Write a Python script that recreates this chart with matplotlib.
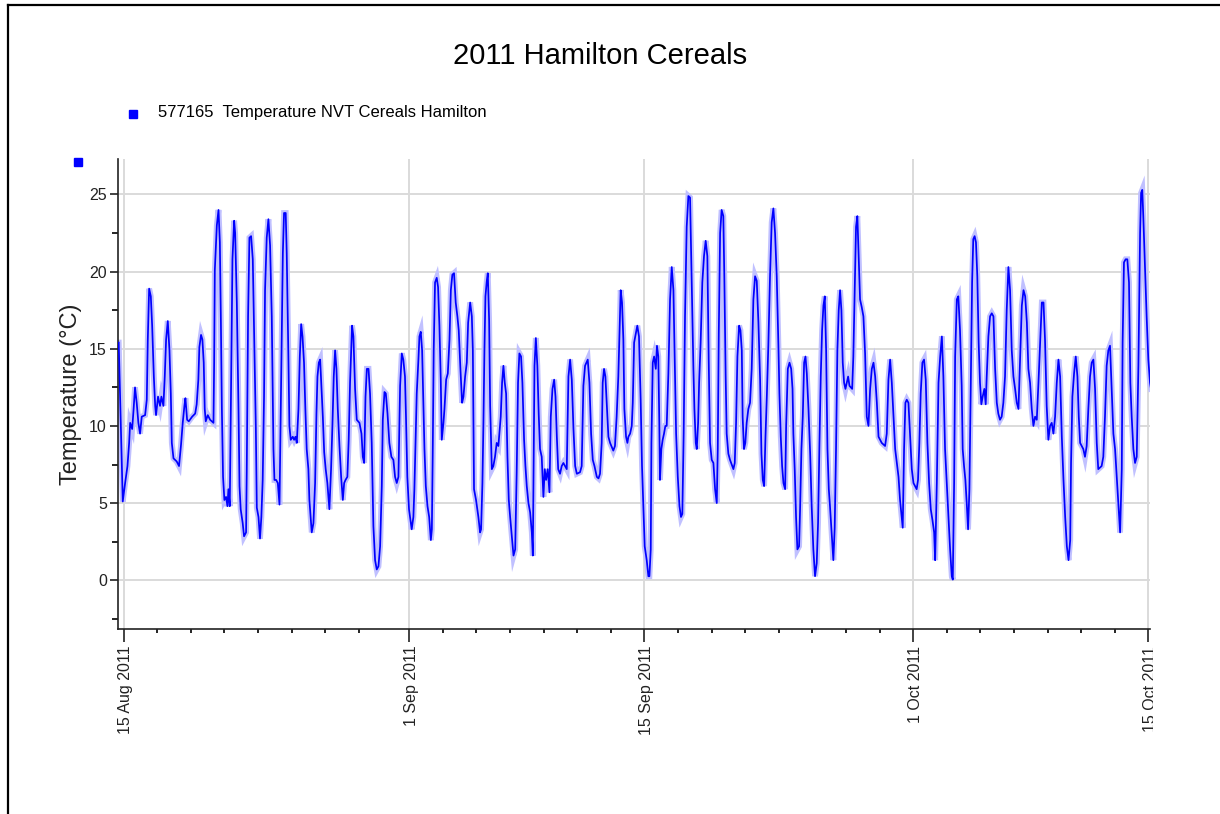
import matplotlib
matplotlib.use("Agg")
import matplotlib.pyplot as plt
import matplotlib.dates as mdates
from matplotlib.lines import Line2D
from matplotlib.patches import Rectangle
from matplotlib.transforms import ScaledTranslation
import numpy as np
import pandas as pd

plt.rcParams["font.family"] = ["Liberation Sans", "DejaVu Sans"]

# ── labels ──────────────────────────────────────────────────────────────────
TITLE = "2011 Hamilton Cereals"
SERIES_NAME = "577165  Temperature NVT Cereals Hamilton"
Y_LABEL = "Temperature (°C)"
START = pd.Timestamp("2011-08-15 00:00")
major_dates = ["2011-08-15", "2011-09-01", "2011-09-15", "2011-10-01", "2011-10-15"]
y_ticks = [0, 5, 10, 15, 20, 25]

# ── logger trace: (days since 15 Aug 2011 00:00, temperature °C) ────────────
aug_readings = [
    (-0.29, 15.4), (-0.23, 12.8), (-0.13, 8.4), (-0.05, 5.1), (0.09, 6.3), (0.23, 7.4),
    (0.33, 8.9), (0.39, 10.2), (0.51, 9.8), (0.59, 11.0), (0.68, 12.5), (0.78, 11.5),
    (0.88, 10.2), (0.98, 9.5), (1.08, 10.6), (1.28, 10.7), (1.38, 11.7), (1.44, 15.6),
    (1.52, 18.9), (1.62, 18.4), (1.70, 16.5), (1.80, 13.2), (1.88, 11.3), (1.93, 10.7),
    (2.05, 11.9), (2.17, 11.3), (2.25, 11.9), (2.37, 11.3), (2.45, 13.2), (2.53, 15.6),
    (2.63, 16.8), (2.73, 14.9), (2.81, 12.1), (2.87, 8.9), (2.97, 7.9), (3.16, 7.7),
    (3.30, 7.4), (3.42, 8.8), (3.52, 10.2), (3.62, 11.3), (3.68, 11.8), (3.78, 10.4),
    (3.88, 10.3), (4.08, 10.6), (4.26, 10.8), (4.35, 11.4), (4.45, 13.0), (4.51, 15.1),
    (4.61, 15.9), (4.69, 15.6), (4.77, 14.1), (4.83, 11.1), (4.89, 10.3), (5.01, 10.7),
    (5.15, 10.4), (5.35, 10.2), (5.39, 14.1), (5.43, 20.1), (5.55, 23.0), (5.65, 24.0),
    (5.73, 21.9), (5.79, 16.9), (5.85, 11.1), (5.92, 6.7), (6.00, 5.2), (6.10, 5.4),
    (6.18, 4.8), (6.24, 5.9), (6.32, 4.8), (6.40, 12.8), (6.48, 20.8), (6.58, 23.3),
    (6.64, 22.5), (6.74, 18.0), (6.84, 11.1), (6.90, 6.1), (6.97, 4.6), (7.09, 3.7),
    (7.17, 2.85), (7.29, 3.1), (7.33, 7.0), (7.41, 17.1), (7.49, 22.2), (7.59, 22.3),
    (7.69, 20.8), (7.77, 16.1), (7.87, 10.0), (7.93, 4.7), (8.03, 4.1), (8.12, 2.7),
    (8.20, 4.1), (8.28, 6.5), (8.36, 11.9), (8.42, 18.8), (8.52, 22.2), (8.62, 23.4),
    (8.72, 21.7), (8.82, 17.1), (8.92, 8.5), (8.98, 6.5), (9.08, 6.5), (9.18, 6.3),
    (9.28, 4.9), (9.38, 12.8), (9.48, 21.2), (9.55, 23.8), (9.65, 23.8), (9.71, 21.2),
    (9.81, 14.5), (9.87, 10.0), (9.95, 9.1), (10.07, 9.3), (10.15, 9.1), (10.23, 9.3),
    (10.31, 8.9), (10.41, 11.1), (10.49, 14.5), (10.57, 16.6), (10.65, 15.8), (10.74, 14.1),
    (10.82, 11.1), (10.90, 8.5), (11.00, 7.2), (11.06, 5.2), (11.20, 3.1), (11.30, 3.7),
    (11.40, 6.3), (11.48, 10.8), (11.54, 13.2), (11.62, 14.1), (11.70, 14.3), (11.78, 12.4),
    (11.86, 10.6), (11.94, 8.3), (12.03, 7.2), (12.13, 6.3), (12.25, 4.6), (12.35, 7.2),
    (12.43, 10.0), (12.51, 13.2), (12.59, 14.9), (12.67, 13.7), (12.75, 11.1), (12.85, 8.7),
    (12.95, 6.7), (13.05, 5.2), (13.13, 6.3), (13.21, 6.5), (13.32, 6.7), (13.40, 9.1),
    (13.48, 12.8), (13.60, 16.5), (13.68, 15.8), (13.78, 12.4), (13.88, 10.4), (14.04, 10.2),
    (14.16, 9.5), (14.24, 8.0), (14.32, 7.6), (14.40, 11.9), (14.48, 13.7), (14.58, 13.7),
    (14.67, 12.1), (14.77, 8.9), (14.87, 3.5), (14.97, 1.3), (15.07, 0.7), (15.17, 0.9),
    (15.27, 2.2), (15.37, 6.1), (15.43, 10.4), (15.53, 12.2), (15.61, 12.1), (15.71, 10.8),
    (15.82, 8.9), (15.94, 8.0), (16.06, 7.8), (16.16, 6.7), (16.26, 6.3), (16.36, 6.7),
    (16.46, 12.6), (16.56, 14.7), (16.65, 14.3), (16.75, 13.2), (16.81, 10.6), (16.89, 6.7),
    (16.99, 4.6),
]

sep_readings = [
    (17.15, 3.3), (17.25, 4.1), (17.31, 5.9), (17.39, 9.3), (17.45, 12.1), (17.55, 14.3),
    (17.61, 15.8), (17.69, 16.1), (17.77, 14.9), (17.85, 11.1), (17.91, 8.5), (17.99, 6.1),
    (18.09, 4.8), (18.19, 4.1), (18.29, 2.6), (18.35, 3.3), (18.40, 8.0), (18.46, 14.9),
    (18.54, 19.3), (18.64, 19.6), (18.72, 19.0), (18.80, 16.5), (18.88, 13.0), (18.94, 9.1),
    (19.04, 10.2), (19.10, 11.1), (19.20, 13.0), (19.30, 13.4), (19.40, 15.6), (19.48, 18.8),
    (19.57, 19.8), (19.67, 19.9), (19.77, 18.0), (19.87, 17.1), (19.95, 16.2), (20.05, 13.7),
    (20.15, 11.5), (20.23, 11.9), (20.33, 13.2), (20.43, 14.1), (20.51, 16.7), (20.63, 18.0),
    (20.73, 17.1), (20.79, 14.9), (20.86, 5.9), (20.98, 5.2), (21.12, 4.1), (21.22, 3.1),
    (21.28, 3.3), (21.36, 6.3), (21.42, 10.2), (21.48, 14.9), (21.54, 18.4), (21.62, 19.4),
    (21.68, 19.9), (21.76, 16.8), (21.82, 11.3), (21.92, 7.2), (22.01, 7.4), (22.11, 8.0),
    (22.21, 8.9), (22.31, 8.7), (22.45, 10.6), (22.53, 12.8), (22.61, 13.9), (22.69, 12.8),
    (22.77, 12.1), (22.85, 8.0), (22.93, 5.2), (23.01, 4.1), (23.11, 2.85), (23.21, 1.6),
    (23.31, 2.0), (23.40, 7.0), (23.48, 12.8), (23.56, 14.7), (23.66, 14.5), (23.74, 12.8),
    (23.84, 9.1), (23.92, 7.4), (24.00, 6.1), (24.10, 5.0), (24.20, 4.4), (24.30, 3.1),
    (24.36, 1.6), (24.40, 6.8), (24.46, 13.9), (24.54, 15.7), (24.63, 13.9), (24.71, 10.8),
    (24.79, 8.5), (24.89, 8.0), (24.99, 5.4), (25.07, 7.2), (25.15, 6.5), (25.25, 7.2),
    (25.35, 5.7), (25.43, 10.6), (25.53, 12.4), (25.63, 13.0), (25.71, 11.9), (25.79, 9.3),
    (25.87, 7.2), (25.98, 6.9), (26.08, 7.4), (26.18, 7.6), (26.38, 7.2), (26.48, 13.2),
    (26.58, 14.3), (26.68, 13.0), (26.78, 9.8), (26.88, 7.4), (26.98, 6.9), (27.17, 7.0),
    (27.27, 7.4), (27.37, 12.6), (27.47, 13.9), (27.63, 14.3), (27.73, 12.8), (27.83, 9.5),
    (27.93, 7.8), (28.03, 7.4), (28.17, 6.7), (28.27, 6.6), (28.36, 6.9), (28.46, 8.9),
    (28.52, 12.8), (28.60, 13.7), (28.68, 13.2), (28.76, 11.5), (28.86, 9.3), (28.96, 8.9),
    (29.15, 8.4), (29.25, 8.7), (29.35, 10.6), (29.45, 13.2), (29.51, 15.6), (29.59, 18.8),
    (29.67, 18.0), (29.75, 15.6), (29.81, 11.1), (29.91, 9.3), (29.99, 8.9), (30.05, 9.3),
    (30.15, 9.5), (30.25, 10.0), (30.31, 11.5), (30.39, 15.4), (30.49, 16.0), (30.58, 16.5),
    (30.68, 15.8), (30.78, 11.7), (30.86, 7.4), (30.94, 4.8), (31.02, 2.2), (31.14, 1.3),
    (31.24, 0.26), (31.30, 0.26), (31.38, 2.0), (31.42, 8.9), (31.50, 14.1), (31.58, 14.5),
    (31.68, 13.7), (31.75, 15.2), (31.83, 14.5), (31.89, 10.2), (31.93, 6.5), (32.01, 8.5),
    (32.09, 9.1), (32.17, 9.5), (32.25, 10.0), (32.33, 10.0), (32.43, 13.4), (32.53, 18.2),
    (32.63, 20.3), (32.73, 18.8), (32.81, 14.1), (32.89, 9.5), (32.99, 6.7), (33.09, 4.8),
    (33.18, 4.1), (33.26, 4.3), (33.34, 9.5), (33.42, 17.1), (33.52, 22.9), (33.62, 24.9),
    (33.72, 24.8), (33.78, 21.4), (33.86, 16.7), (33.92, 13.7), (33.98, 11.1), (34.06, 8.9),
    (34.12, 8.5), (34.20, 10.2), (34.26, 12.8), (34.35, 15.4), (34.45, 19.3), (34.55, 21.0),
    (34.65, 22.0), (34.75, 21.0), (34.83, 14.3), (34.91, 8.9), (35.01, 7.8), (35.11, 7.6),
    (35.21, 5.9), (35.31, 5.0), (35.37, 8.5), (35.43, 16.0), (35.51, 22.5), (35.60, 24.0),
    (35.70, 23.6), (35.76, 19.7), (35.84, 13.2), (35.90, 9.5), (36.00, 8.2), (36.10, 7.8),
    (36.30, 7.2), (36.38, 7.6), (36.46, 10.2), (36.54, 14.5), (36.64, 16.5), (36.72, 16.2),
    (36.80, 14.9), (36.85, 10.6), (36.93, 8.5), (37.01, 8.9), (37.09, 10.2), (37.19, 11.1),
    (37.29, 11.5), (37.39, 13.7), (37.49, 18.2), (37.59, 19.7), (37.69, 19.4), (37.79, 16.7),
    (37.89, 13.0), (37.97, 8.2), (38.05, 6.5), (38.13, 6.1), (38.21, 9.3), (38.29, 11.9),
    (38.38, 15.2), (38.48, 19.7), (38.58, 23.2), (38.68, 24.1), (38.78, 22.5), (38.88, 19.7),
    (38.98, 15.2), (39.04, 12.1), (39.12, 9.3), (39.20, 7.4), (39.28, 6.3), (39.38, 5.9),
    (39.44, 10.0), (39.54, 13.7), (39.64, 14.1), (39.74, 13.7), (39.82, 12.4), (39.87, 9.5),
    (39.95, 7.2), (40.03, 4.1), (40.11, 2.0), (40.21, 2.2), (40.27, 4.6), (40.35, 8.5),
    (40.43, 10.6), (40.51, 14.1), (40.59, 14.5), (40.67, 13.4), (40.77, 11.1), (40.87, 8.2),
    (40.96, 4.8), (41.06, 2.0), (41.16, 0.26), (41.26, 1.1), (41.34, 3.7), (41.42, 8.7),
    (41.50, 13.2), (41.58, 16.2), (41.66, 17.8), (41.74, 18.4), (41.82, 14.9), (41.90, 8.5),
    (41.98, 5.9), (42.05, 4.8), (42.15, 3.1), (42.25, 1.3), (42.33, 3.4), (42.41, 8.5),
    (42.49, 14.9), (42.57, 17.5), (42.65, 18.8), (42.73, 17.5), (42.81, 14.1), (42.89, 12.8),
    (42.97, 12.4), (43.13, 13.2), (43.21, 12.6), (43.37, 12.4), (43.44, 14.5), (43.52, 18.6),
    (43.60, 22.9), (43.68, 23.6), (43.76, 20.8), (43.84, 18.2), (43.94, 17.7), (44.04, 17.1),
    (44.14, 14.7), (44.24, 10.6), (44.34, 10.0), (44.44, 12.4), (44.54, 13.7), (44.64, 14.1),
    (44.74, 13.2), (44.84, 11.5), (44.94, 9.3), (45.13, 8.9), (45.33, 8.7), (45.43, 9.5),
    (45.53, 13.0), (45.63, 14.3), (45.73, 12.8), (45.83, 10.6), (45.93, 8.5), (46.03, 7.6),
    (46.13, 6.7), (46.22, 5.2), (46.32, 4.1), (46.38, 3.4), (46.46, 8.5), (46.54, 11.5),
    (46.62, 11.7), (46.72, 11.5), (46.82, 9.3), (46.92, 7.2),
]

oct_readings = [
    (47.02, 6.3), (47.21, 5.9), (47.29, 6.5), (47.37, 8.9), (47.45, 12.1), (47.55, 14.1),
    (47.65, 14.3), (47.75, 13.0), (47.85, 8.9), (47.95, 6.3), (48.05, 4.6), (48.15, 3.9),
    (48.25, 3.1), (48.31, 1.3), (48.41, 6.3), (48.51, 12.8), (48.61, 14.5), (48.71, 15.8),
    (48.80, 13.2), (48.90, 8.5), (49.00, 6.3), (49.10, 4.1), (49.20, 2.0), (49.30, 0.26),
    (49.36, 0.04), (49.44, 6.3), (49.50, 14.5), (49.60, 18.2), (49.69, 18.4), (49.79, 16.2),
    (49.89, 12.6), (49.95, 8.5), (50.03, 7.4), (50.11, 6.5), (50.19, 5.0), (50.27, 3.3),
    (50.35, 5.9), (50.43, 12.8), (50.51, 19.3), (50.58, 22.1), (50.66, 22.3), (50.74, 21.9),
    (50.82, 19.7), (50.90, 15.4), (50.98, 12.8), (51.06, 11.4), (51.14, 11.9), (51.24, 12.4),
    (51.32, 11.4), (51.38, 13.2), (51.48, 15.8), (51.58, 17.1), (51.68, 17.3), (51.78, 17.1),
    (51.88, 13.7), (51.98, 11.5), (52.07, 10.8), (52.17, 10.4), (52.27, 10.6), (52.37, 11.5),
    (52.47, 13.2), (52.57, 17.5), (52.67, 20.3), (52.77, 18.8), (52.87, 14.9), (52.97, 13.2),
    (53.07, 12.4), (53.17, 11.5), (53.27, 11.1), (53.37, 14.5), (53.47, 17.8), (53.57, 18.8),
    (53.67, 18.4), (53.77, 16.7), (53.86, 13.7), (53.96, 12.8), (54.06, 11.1), (54.16, 10.0),
    (54.26, 10.6), (54.36, 10.4), (54.46, 12.8), (54.56, 15.4), (54.66, 18.0), (54.76, 18.0),
    (54.85, 15.6), (54.95, 11.3), (55.05, 9.1), (55.15, 10.0), (55.25, 10.2), (55.35, 9.5),
    (55.45, 10.6), (55.55, 12.8), (55.65, 14.3), (55.75, 13.2), (55.85, 9.3), (55.95, 6.5),
    (56.05, 4.1), (56.15, 2.2), (56.25, 1.3), (56.35, 2.6), (56.40, 7.6), (56.48, 11.9),
    (56.58, 13.4), (56.68, 14.5), (56.78, 13.2), (56.86, 10.6), (56.94, 8.9), (57.13, 8.5),
    (57.23, 8.0), (57.33, 8.7), (57.43, 11.1), (57.53, 13.2), (57.63, 14.1), (57.73, 14.3),
    (57.83, 12.4), (57.93, 8.9), (58.02, 7.2), (58.22, 7.4), (58.32, 8.0), (58.42, 10.6),
    (58.52, 13.9), (58.62, 14.9), (58.72, 15.2), (58.82, 12.4), (58.92, 9.5), (59.02, 8.5),
    (59.12, 6.7), (59.22, 4.8), (59.32, 3.1), (59.42, 7.2), (59.47, 15.4), (59.55, 20.6),
    (59.65, 20.8), (59.75, 20.8), (59.85, 19.3), (59.93, 12.8), (60.01, 10.6), (60.11, 8.5),
    (60.21, 7.6), (60.31, 8.0), (60.41, 13.9), (60.51, 22.5), (60.57, 25.1), (60.64, 25.3),
    (60.70, 23.6), (60.80, 20.3), (60.90, 17.1), (61.00, 14.3), (61.10, 12.8), (61.16, 12.4),
]

readings = aug_readings + sep_readings + oct_readings
days = np.array([r[0] for r in readings])
temps = np.array([r[1] for r in readings])
times = START + pd.to_timedelta(days, unit="D")

# ── figure ──────────────────────────────────────────────────────────────────
W, H = 1220, 814
fig = plt.figure(figsize=(W / 100, H / 100), dpi=100)
ax = fig.add_axes([118 / W, 1 - 629 / H, (1150 - 118) / W, (629 - 159) / H])

# pale halo behind the trace, as in the logger software
ax.plot(times, temps, color="#c0c0ff", lw=4.2, solid_joinstyle="miter", zorder=2)
ax.plot(times, temps, color="#0000ff", lw=1.25, zorder=3)

ax.set_xlim(START - pd.Timedelta(hours=8), START + pd.Timedelta(days=61.1))
ax.set_ylim(-3.16, 27.3)

ax.set_xticks(pd.to_datetime(major_dates))
ax.xaxis.set_major_formatter(mdates.DateFormatter("%-d %b %Y"))
ax.xaxis.set_minor_locator(mdates.DayLocator(bymonthday=range(1, 30, 2)))
ax.set_yticks(y_ticks)
ax.yaxis.set_minor_locator(matplotlib.ticker.MultipleLocator(2.5))

ax.tick_params(axis="x", which="major", length=9, width=1.2, pad=3,
               labelsize=11.5, labelrotation=90, colors="#222222")
ax.tick_params(axis="x", which="minor", length=3, width=1.2)
ax.tick_params(axis="y", which="major", length=6, width=1.2, pad=2,
               labelsize=11.5, colors="#222222")
ax.tick_params(axis="y", which="minor", length=4, width=1.2)

# date labels sit a touch right of their ticks in the original
nudge = ScaledTranslation(2 / 100, 0, fig.dpi_scale_trans)
for lbl in ax.get_xticklabels():
    lbl.set_transform(lbl.get_transform() + nudge)

for side in ("top", "right"):
    ax.spines[side].set_visible(False)
for side in ("left", "bottom"):
    ax.spines[side].set_linewidth(1.2)
    ax.spines[side].set_color("#222222")

ax.grid(True, which="major", color="#dadada", lw=1.4)
ax.set_axisbelow(True)

# ── title, legend, y label, frame ───────────────────────────────────────────
fig.text(600 / W, 1 - 56 / H, TITLE, ha="center", va="center", fontsize=21)
fig.text(71 / W, 1 - 394 / H, Y_LABEL, ha="center", va="center",
         rotation=90, fontsize=17, color="#222222")
fig.add_artist(Line2D([133 / W], [1 - 114 / H], marker="s", markersize=5.5,
                      color="#0000ff", transform=fig.transFigure))
fig.text(158 / W, 1 - 112 / H, SERIES_NAME, ha="left", va="center", fontsize=12)
fig.add_artist(Line2D([78 / W], [1 - 162 / H], marker="s", markersize=5.5,
                      color="#0000ff", transform=fig.transFigure))

fig.add_artist(Line2D([8 / W, 8 / W], [0, 1 - 5 / H], color="black", lw=1.6,
                      transform=fig.transFigure))
fig.add_artist(Line2D([8 / W, 1], [1 - 5 / H, 1 - 5 / H], color="black", lw=1.6,
                      transform=fig.transFigure))

# the last date label is cut off at the right edge of the plot in the original
fig.add_artist(Rectangle((1152.5 / W, 0), 1 - 1152.5 / W, 1 - 642 / H,
                         transform=fig.transFigure, facecolor="white",
                         edgecolor="none", zorder=10))

plt.savefig("out.png", dpi=100)
plt.close()
